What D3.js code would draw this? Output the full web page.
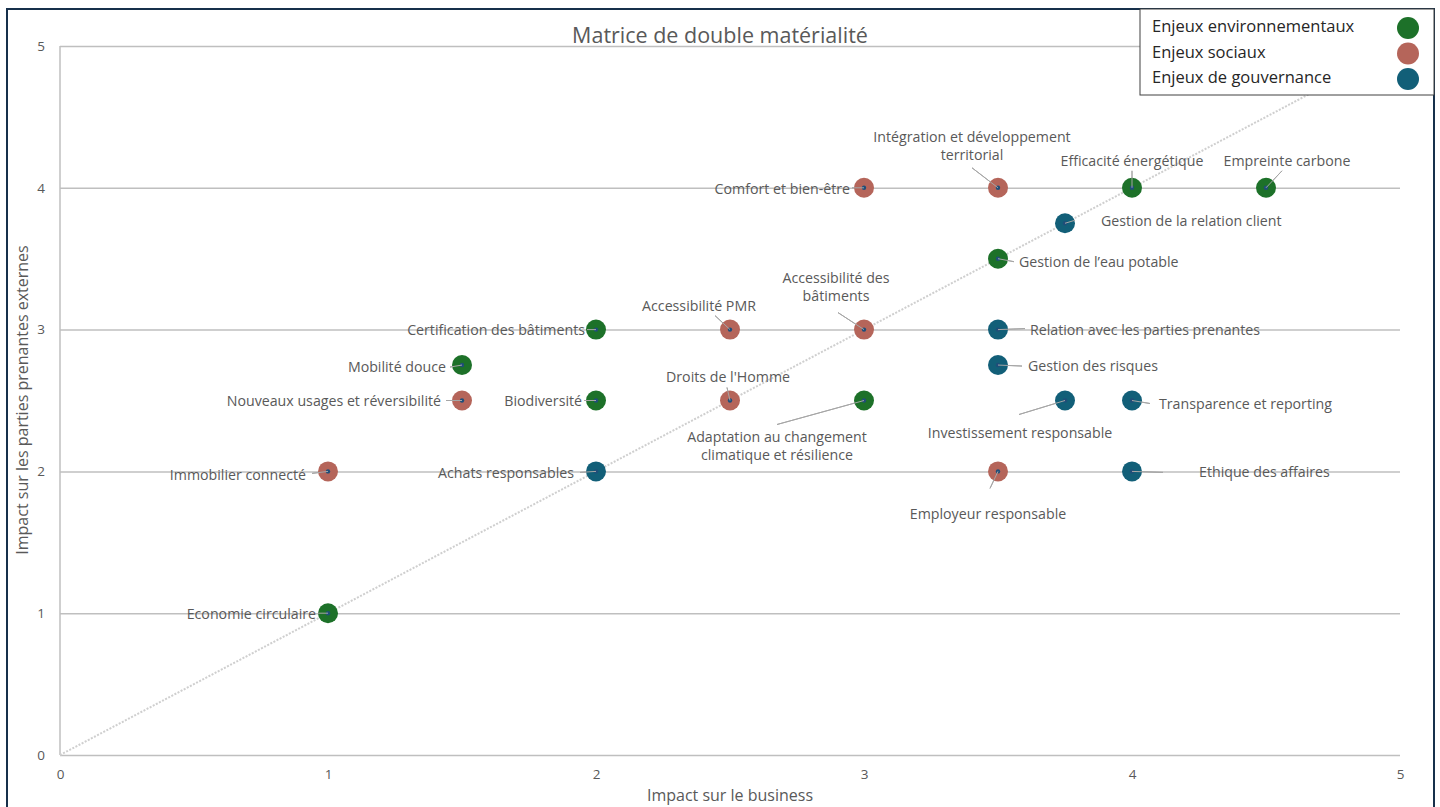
<!DOCTYPE html>
<html><head><meta charset="utf-8">
<script src="https://cdn.jsdelivr.net/npm/d3@7"></script>
<style>
html,body{margin:0;padding:0;background:#fff;}
svg{display:block;}
text{font-family:"Open Sans","Noto Sans",sans-serif;}
</style></head>
<body>
<script>
// ---- Data ----
const categories = ["Enjeux environnementaux","Enjeux sociaux","Enjeux de gouvernance"];
const envNames = ["Economie circulaire","Mobilité douce","Certification des bâtiments","Biodiversité","Adaptation au changement\nclimatique et résilience","Gestion de l’eau potable","Efficacité énergétique","Empreinte carbone"];
const envBusiness = [1,1.5,2,2,3,3.5,4,4.5];
const envStakeholders = [1,2.75,3,2.5,2.5,3.5,4,4];
const socNames = ["Immobilier connecté","Nouveaux usages et réversibilité","Accessibilité PMR","Droits de l'Homme","Accessibilité des\nbâtiments","Comfort et bien-être","Intégration et développement\nterritorial","Employeur responsable"];
const socBusiness = [1,1.5,2.5,2.5,3,3,3.5,3.5];
const socStakeholders = [2,2.5,3,2.5,3,4,4,2];
const govNames = ["Achats responsables","Gestion de la relation client","Relation avec les parties prenantes","Gestion des risques","Investissement responsable","Transparence et reporting","Ethique des affaires"];
const govBusiness = [2,3.75,3.5,3.5,3.75,4,4];
const govStakeholders = [2,3.75,3,2.75,2.5,2.5,2];
const xTicks = [0,1,2,3,4,5];
const yTicks = [0,1,2,3,4,5];
const title = "Matrice de double matérialité";
const xTitle = "Impact sur le business";
const yTitle = "Impact sur les parties prenantes externes";

// ---- Label layout (pixel offsets relative to each point: text anchor dx,dy; leader end lx,ly) ----
const labelLayout = {
  "Economie circulaire":{a:"end",dx:-12,dy:1,lx:-10,ly:0},
  "Mobilité douce":{a:"end",dx:-16,dy:2,lx:-12,ly:2},
  "Certification des bâtiments":{a:"end",dx:-11,dy:0,lx:-9,ly:0},
  "Biodiversité":{a:"end",dx:-14,dy:0,lx:-12,ly:0},
  "Adaptation au changement\nclimatique et résilience":{a:"middle",dx:-87,dy:36,lx:-87,ly:24},
  "Gestion de l’eau potable":{a:"start",dx:21,dy:3,lx:16,ly:3},
  "Efficacité énergétique":{a:"middle",dx:0,dy:-27,lx:0,ly:-17},
  "Empreinte carbone":{a:"middle",dx:21,dy:-27,lx:16,ly:-17},
  "Immobilier connecté":{a:"end",dx:-22,dy:4,lx:-16,ly:2},
  "Nouveaux usages et réversibilité":{a:"end",dx:-21,dy:0,lx:-16,ly:0},
  "Accessibilité PMR":{a:"middle",dx:-31,dy:-24,lx:-15,ly:-14},
  "Droits de l'Homme":{a:"middle",dx:-2,dy:-24,lx:-3,ly:-13},
  "Accessibilité des\nbâtiments":{a:"middle",dx:-28,dy:-52,lx:-26,ly:-17},
  "Comfort et bien-être":{a:"end",dx:-14,dy:1,lx:-12,ly:0},
  "Intégration et développement\nterritorial":{a:"middle",dx:-26,dy:-51,lx:-26,ly:-20},
  "Employeur responsable":{a:"middle",dx:-10,dy:43,lx:-8,ly:17},
  "Achats responsables":{a:"end",dx:-22,dy:2,lx:-16,ly:1},
  "Gestion de la relation client":{a:"start",dx:36,dy:-2,lx:10,ly:-3},
  "Relation avec les parties prenantes":{a:"start",dx:32,dy:0,lx:27,ly:-1},
  "Gestion des risques":{a:"start",dx:30,dy:1,lx:24,ly:1},
  "Investissement responsable":{a:"middle",dx:-45,dy:32,lx:-46,ly:14},
  "Transparence et reporting":{a:"start",dx:27,dy:3,lx:18,ly:3},
  "Ethique des affaires":{a:"start",dx:67,dy:1,lx:31,ly:1}
};

const colors = ["#1d7129","#b5655a","#125f78"];

const W = 1440, H = 807;
const M = {left:60, right:40, top:46, bottom:52};
const svg = d3.select("body").append("svg").attr("width",W).attr("height",H);

// frame
svg.append("rect").attr("x",7).attr("y",9).attr("width",1427).attr("height",H)
  .attr("fill","#fff").attr("stroke","#17304b").attr("stroke-width",2);

const x = d3.scaleLinear().domain([0,5]).range([M.left, W - M.right]);
const y = d3.scaleLinear().domain([0,5]).range([H - M.bottom, M.top]);

// gridlines
const grid = svg.append("g").attr("transform",`translate(${M.left},0)`)
  .call(d3.axisLeft(y).tickValues(yTicks).tickSize(-(x(5)-x(0))).tickFormat(""));
grid.select(".domain").remove();
grid.selectAll("line").attr("stroke","#bfbfbf").attr("stroke-width",1.5);

// left axis line
svg.append("line").attr("x1",x(0)).attr("x2",x(0)).attr("y1",y(0)).attr("y2",y(5))
  .attr("stroke","#bfbfbf").attr("stroke-width",1.5);

// axes tick labels
const xa = svg.append("g").attr("transform",`translate(0,${y(0)})`)
  .call(d3.axisBottom(x).tickValues(xTicks).tickSize(0).tickPadding(14).tickFormat(d3.format("d")));
xa.select(".domain").remove();
xa.selectAll("text").attr("fill","#595959").attr("font-size",13.5);
const ya = svg.append("g").attr("transform",`translate(${x(0)},0)`)
  .call(d3.axisLeft(y).tickValues(yTicks).tickSize(0).tickPadding(15).tickFormat(d3.format("d")));
ya.select(".domain").remove();
ya.selectAll("text").attr("fill","#595959").attr("font-size",13.5);

// diagonal dotted line
svg.append("line").attr("x1",x(0)).attr("y1",y(0)).attr("x2",x(5)).attr("y2",y(5))
  .attr("stroke","#cfcfcf").attr("stroke-width",2).attr("stroke-dasharray","2,1.5");

// title
svg.append("text").attr("x",720).attr("y",43).attr("text-anchor","middle")
  .attr("font-size",21.5).attr("fill","#595959").text(title);

// axis titles
svg.append("text").attr("x",730).attr("y",801).attr("text-anchor","middle")
  .attr("font-size",16).attr("fill","#595959").text(xTitle);
svg.append("text").attr("transform",`translate(28,400) rotate(-90)`)
  .attr("text-anchor","middle").attr("font-size",16).attr("fill","#595959").text(yTitle);

// data rows
const series = [
  {cat:0, names:envNames, xs:envBusiness, ys:envStakeholders},
  {cat:1, names:socNames, xs:socBusiness, ys:socStakeholders},
  {cat:2, names:govNames, xs:govBusiness, ys:govStakeholders}
];
const pts = [];
series.forEach(s => s.names.forEach((n,i) => pts.push({cat:s.cat, name:n, bx:s.xs[i], sy:s.ys[i]})));

// labels + leaders
const lg = svg.append("g");
pts.forEach(p => {
  const L = labelLayout[p.name];
  const px = x(p.bx), py = y(p.sy);
  lg.append("line").attr("x1",px).attr("y1",py).attr("x2",px+L.lx).attr("y2",py+L.ly)
    .attr("stroke","#a6a6a6").attr("stroke-width",1);
  const lines = p.name.split("\n");
  const t = lg.append("text").attr("text-anchor",L.a).attr("font-size",14.2).attr("fill","#595959");
  lines.forEach((ln,k) => {
    t.append("tspan").attr("x",px+L.dx).attr("y",py+L.dy + k*18 + 5).text(ln);
  });
});

// points
const pg = svg.append("g");
pg.selectAll("circle.pt").data(pts).join("circle").attr("class","pt")
  .attr("cx",d=>x(d.bx)).attr("cy",d=>y(d.sy)).attr("r",10)
  .attr("fill",d=>colors[d.cat]);
pg.selectAll("circle.dot").data(pts).join("circle").attr("class","dot")
  .attr("cx",d=>x(d.bx)).attr("cy",d=>y(d.sy)).attr("r",2.2)
  .attr("fill","#1f4e79");
pts.forEach(p => {
  const L = labelLayout[p.name];
  const px = x(p.bx), py = y(p.sy);
  pg.append("line").attr("x1",px).attr("y1",py).attr("x2",px+L.lx).attr("y2",py+L.ly)
    .attr("stroke","#a6a6a6").attr("stroke-width",1);
});

// legend
const leg = svg.append("g");
leg.append("rect").attr("x",1140).attr("y",9).attr("width",294).attr("height",86)
  .attr("fill","#fff").attr("stroke","#404040").attr("stroke-width",1);
categories.forEach((c,i) => {
  leg.append("text").attr("x",1152).attr("y",26 + i*25.5 + 6).attr("font-size",16.5)
    .attr("fill","#262626").text(c);
  leg.append("circle").attr("cx",1408).attr("cy",28 + i*25.5).attr("r",11).attr("fill",colors[i]);
});
</script>
</body></html>
